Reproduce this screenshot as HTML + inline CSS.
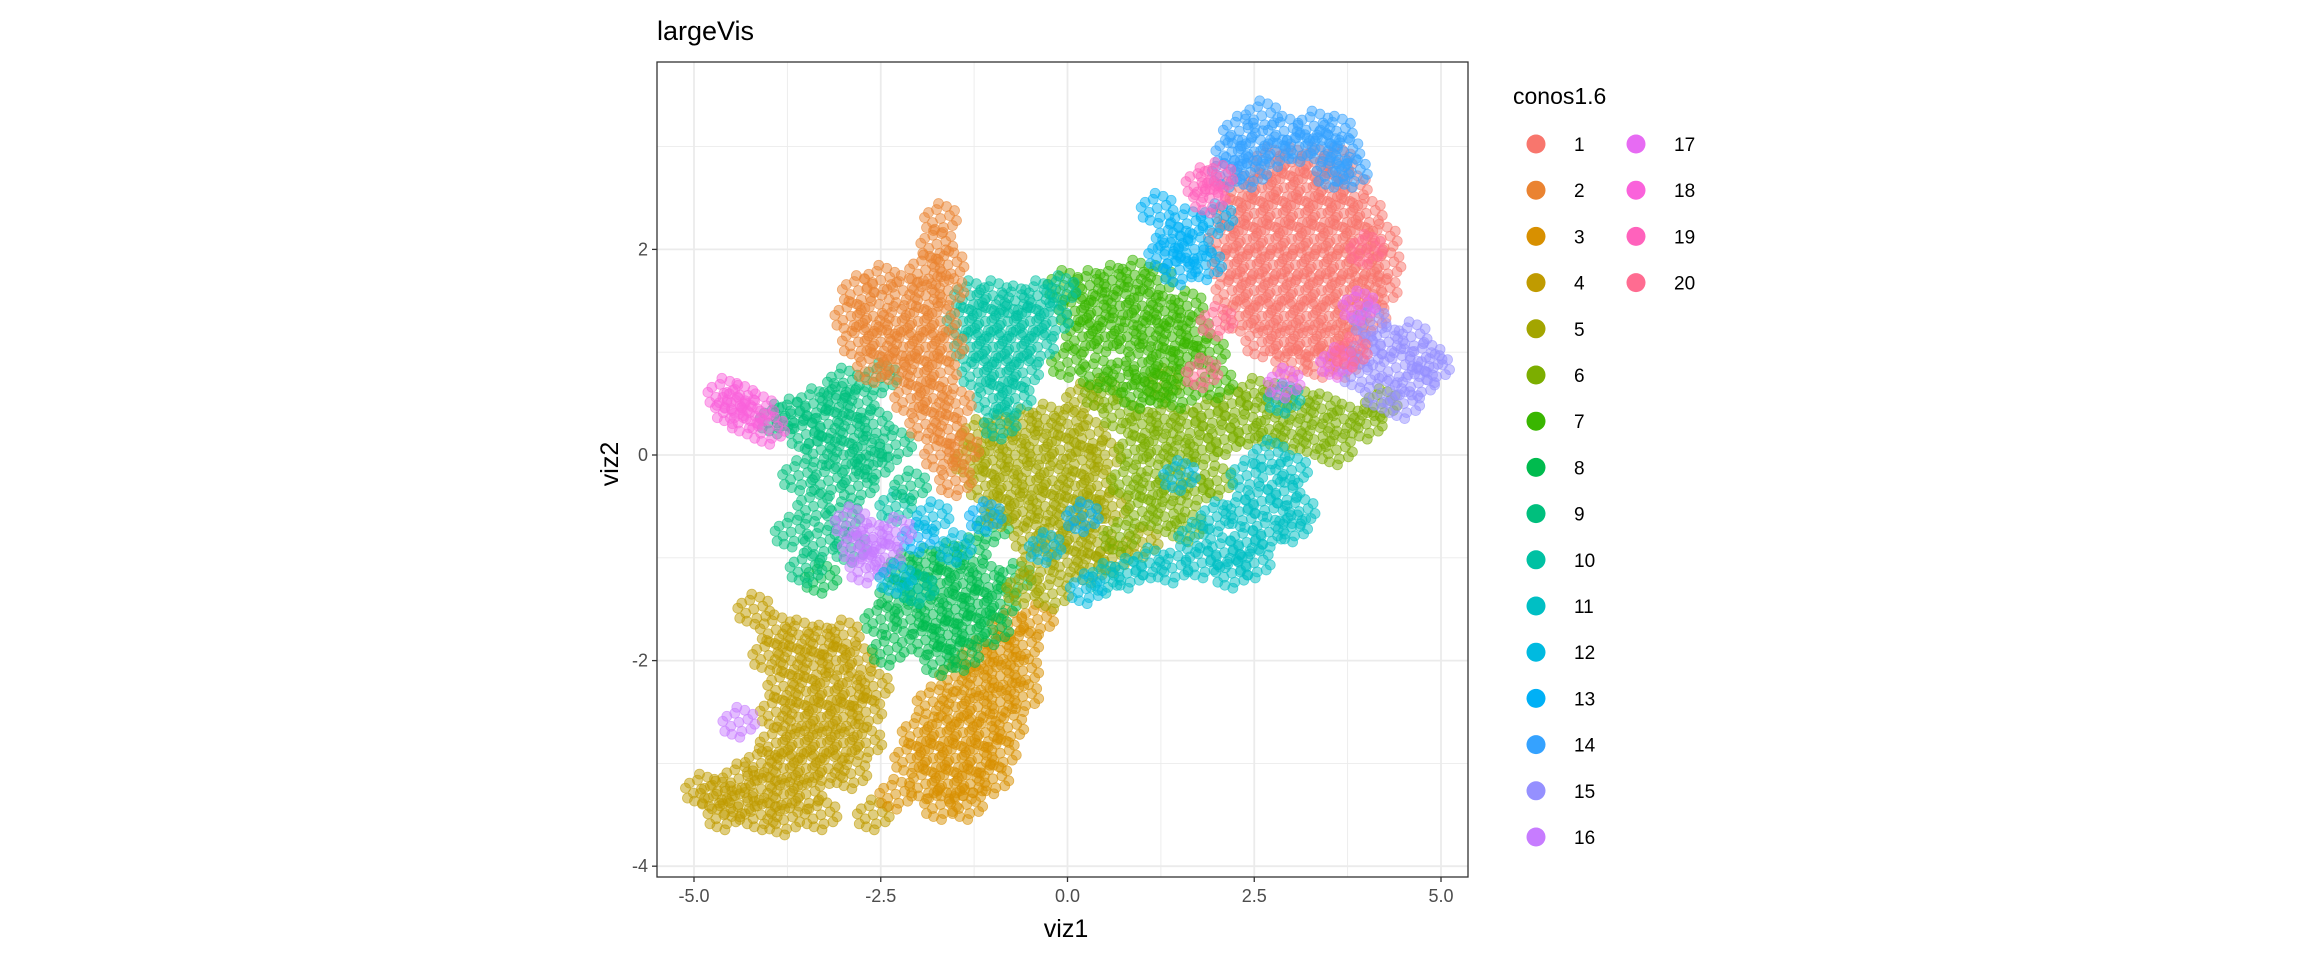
<!DOCTYPE html>
<html><head><meta charset="utf-8"><style>
html,body{margin:0;padding:0;background:#fff;}
svg{display:block;font-family:"Liberation Sans",sans-serif;}
</style></head><body>
<svg id="chart" width="2304" height="960" viewBox="0 0 2304 960">
<g id="grid"></g>
<g id="points"></g>
<rect x="657" y="62" width="811" height="815" fill="none" stroke="#333" stroke-width="1.3"/>
<g id="axes"></g>
<text x="657" y="40" font-size="27" fill="#000">largeVis</text>
<text x="1066" y="937" font-size="25" text-anchor="middle" fill="#000">viz1</text>
<text x="0" y="0" font-size="25" text-anchor="middle" fill="#000" transform="translate(618,464) rotate(-90)">viz2</text>
<g id="legend"></g>
</svg>
<script>
const xTicks=[-5,-2.5,0,2.5,5];
const xTickLabels=["-5.0","-2.5","0.0","2.5","5.0"];
const yTicks=[-4,-2,0,2];
const yTickLabels=["-4","-2","0","2"];
const xMinor=[-3.75,-1.25,1.25,3.75];
const yMinor=[-3,-1,1,3];
const clusterIds=[1,2,3,4,5,6,7,8,9,10,11,12,13,14,15,16,17,18,19,20];
const clusterColors=["#F8766D","#EA8331","#D89000","#C09B00","#A3A500","#7CAE00","#39B600","#00BB4E","#00BF7D","#00C1A3","#00BFC4","#00BAE0","#00B0F6","#35A2FF","#9590FF","#C77CFF","#E76BF3","#FA62DB","#FF62BC","#FF6C91"];
const c4="-3.9 -1.7,-3.6 -1.75,-3.3 -1.8,-3.0 -1.75,-4.0 -1.95,-3.7 -2.0,-3.4 -2.05,-3.1 -2.0,-2.8 -2.0,-3.8 -2.25,-3.5 -2.3,-3.2 -2.3,-2.9 -2.3,-2.6 -2.25,-3.9 -2.5,-3.6 -2.55,-3.3 -2.55,-3.0 -2.55,-2.7 -2.5,-3.9 -2.8,-3.6 -2.8,-3.3 -2.8,-3.0 -2.8,-4.1 -3.0,-3.8 -3.05,-3.5 -3.05,-3.2 -3.05,-2.9 -3.1,-4.4 -3.15,-4.1 -3.25,-3.8 -3.3,-3.5 -3.3,-4.7 -3.3,-4.4 -3.4,-4.1 -3.5,-3.8 -3.55,-4.6 -3.5,-4.9 -3.25,-3.3 -3.5,-2.6 -3.5,-2.7 -2.8,-4.2 -1.5";
const c3="-1.2 -1.95,-0.9 -1.9,-0.6 -1.85,-1.5 -2.15,-1.2 -2.2,-0.9 -2.15,-0.6 -2.1,-1.8 -2.4,-1.5 -2.45,-1.2 -2.45,-0.9 -2.4,-0.6 -2.35,-2.0 -2.7,-1.7 -2.7,-1.4 -2.7,-1.1 -2.7,-0.8 -2.65,-2.1 -2.95,-1.8 -2.95,-1.5 -2.95,-1.2 -2.95,-0.9 -2.9,-1.9 -3.2,-1.6 -3.2,-1.3 -3.2,-1.0 -3.15,-1.7 -3.4,-1.35 -3.4,-2.3 -3.3,-0.4 -1.6,-0.8 -1.65";
const c8="-2.2 -1.1,-1.9 -1.05,-1.6 -1.0,-1.3 -0.95,-2.3 -1.35,-2.0 -1.3,-1.7 -1.25,-1.4 -1.25,-1.1 -1.2,-2.1 -1.6,-1.8 -1.55,-1.5 -1.5,-1.2 -1.45,-0.9 -1.45,-1.9 -1.8,-1.6 -1.75,-1.3 -1.7,-1.0 -1.7,-1.7 -2.0,-1.4 -1.95,-2.5 -1.6,-2.4 -1.9,-0.7 -1.2,-3.3 -1.2,-1.0 -0.7";
const c5="-1.2 0.2,-0.9 0.25,-0.6 0.3,-0.3 0.35,0.0 0.3,0.3 0.2,-1.3 -0.05,-1.0 -0.05,-0.7 0.0,-0.4 0.05,-0.1 0.05,0.2 -0.05,0.5 0.0,-1.1 -0.3,-0.8 -0.3,-0.5 -0.25,-0.2 -0.25,0.1 -0.3,0.4 -0.3,-0.9 -0.55,-0.6 -0.55,-0.3 -0.5,0.0 -0.55,0.3 -0.55,-0.5 -0.8,-0.2 -0.8,0.1 -0.8,0.4 -0.85,-0.4 -1.05,0.0 -1.05,0.3 -1.1,-0.6 -1.3,-0.2 -1.35,0.6 -1.0,1.0 -0.85,0.6 -0.5,0.2 0.55";
const c6="0.7 0.4,1.0 0.3,1.3 0.35,1.6 0.3,1.9 0.4,2.2 0.5,2.5 0.6,2.8 0.55,3.1 0.5,3.4 0.45,3.7 0.35,4.0 0.3,4.2 0.5,0.9 0.05,1.2 0.05,1.5 0.0,1.8 0.05,2.1 0.15,2.4 0.25,2.7 0.25,3.0 0.2,3.3 0.15,0.8 -0.25,1.1 -0.3,1.4 -0.3,1.7 -0.35,2.0 -0.25,1.0 -0.55,1.3 -0.6,1.6 -0.7,0.7 -0.8,3.6 0.05,0.45 0.6,1.3 0.7";
const c11="1.7 -0.8,2.0 -0.6,2.3 -0.55,2.6 -0.45,2.9 -0.35,3.1 -0.55,1.8 -1.05,2.1 -0.95,2.4 -0.85,2.7 -0.75,3.0 -0.7,2.2 -1.15,2.5 -1.05,1.4 -1.1,1.1 -1.05,0.8 -1.15,0.5 -1.2,2.7 0.0,3.0 -0.15,2.4 -0.2,2.9 0.55";
const c7="-0.05 1.65,0.3 1.65,0.6 1.7,0.9 1.75,1.2 1.7,0.1 1.4,0.4 1.4,0.7 1.45,1.0 1.45,1.3 1.4,1.6 1.45,0.2 1.15,0.5 1.15,0.8 1.15,1.1 1.2,1.4 1.15,1.7 1.2,1.0 0.9,1.3 0.9,1.6 0.95,1.9 1.0,1.2 0.65,1.5 0.6,2.0 0.7,0.0 0.9,0.4 0.8,0.7 0.75,0.95 0.6";
const c10="-1.3 1.55,-1.0 1.55,-0.7 1.5,-0.4 1.55,-0.1 1.6,-1.4 1.3,-1.1 1.3,-0.8 1.3,-0.5 1.3,-0.2 1.3,-1.3 1.05,-1.0 1.05,-0.7 1.05,-0.4 1.05,-1.2 0.8,-0.9 0.8,-0.6 0.8,-1.0 0.55,-0.7 0.55,-0.9 0.3,-2.3 -0.5,-2.0 -1.3";
const c9="-3.7 0.4,-3.4 0.5,-3.1 0.55,-2.8 0.5,-3.5 0.2,-3.2 0.3,-2.9 0.25,-2.6 0.3,-3.3 0.05,-3.0 0.0,-2.7 0.0,-3.6 -0.2,-3.2 -0.25,-2.8 -0.3,-3.4 -0.5,-3.0 -0.6,-3.7 -0.75,-3.3 -0.85,-2.9 -0.9,-3.5 -1.1,-2.6 -0.1,-2.3 0.1,-2.1 -0.3,-3.9 0.35,-2.5 0.75,-3.0 0.7";
const c2="-1.7 2.3,-1.75 2.05,-1.6 1.85,-1.9 1.8,-2.8 1.6,-2.5 1.7,-2.2 1.6,-1.9 1.55,-1.6 1.6,-2.9 1.35,-2.6 1.35,-2.3 1.3,-2.0 1.3,-1.7 1.3,-2.8 1.1,-2.5 1.1,-2.2 1.05,-1.9 1.05,-1.6 1.05,-2.6 0.85,-2.3 0.85,-2.0 0.8,-1.7 0.8,-2.1 0.55,-1.8 0.55,-1.5 0.5,-1.9 0.3,-1.6 0.25,-1.4 0.05,-1.7 0.0,-1.5 -0.25";
const c1="2.7 2.85,3.0 2.85,3.3 2.85,3.6 2.85,2.3 2.6,2.6 2.6,2.9 2.6,3.2 2.6,3.5 2.6,3.8 2.6,2.2 2.35,2.5 2.35,2.8 2.35,3.1 2.35,3.4 2.35,3.7 2.35,4.0 2.35,2.1 2.1,2.4 2.1,2.7 2.1,3.0 2.1,3.3 2.1,3.6 2.1,3.9 2.1,4.2 2.1,2.15 1.85,2.45 1.85,2.75 1.85,3.05 1.85,3.35 1.85,3.65 1.85,3.95 1.85,4.25 1.85,2.2 1.6,2.5 1.6,2.8 1.6,3.1 1.6,3.4 1.6,3.7 1.6,4.0 1.6,4.2 1.6,2.3 1.35,2.6 1.35,2.9 1.35,3.2 1.35,3.5 1.35,3.8 1.35,4.05 1.35,2.6 1.1,2.9 1.1,3.2 1.1,3.5 1.1,3.8 1.1,3.0 0.9,3.4 0.9,3.7 0.9";
const c14="2.6 3.3,2.3 3.15,2.9 3.15,3.3 3.2,3.6 3.15,2.2 2.95,2.5 2.95,2.8 2.95,3.1 3.0,3.4 3.0,3.7 2.95,2.15 2.75,2.45 2.75,3.55 2.75,3.8 2.75";
const c13="1.4 2.1,1.7 2.0,1.5 1.8,1.85 1.85,1.3 1.95,1.6 2.25,2.0 2.3,1.2 2.4,0.2 -0.6,-1.1 -0.6,-2.0 -0.8";
const c15="4.0 1.0,4.3 1.1,4.6 1.15,4.8 0.95,4.4 0.85,4.7 0.7,4.2 0.6,4.5 0.5,4.9 0.85,3.9 0.8,4.05 1.3";
const c16="-2.8 -0.9,-2.6 -0.8,-2.45 -1.0,-2.7 -1.1,-2.3 -0.75,-2.9 -0.65,-4.4 -2.6";
const c12="-1.8 -0.6,-2.3 -1.2,-1.5 -0.9,0.25 -1.3,-0.3 -0.9,1.5 -0.2";
const c18="-4.6 0.6,-4.4 0.55,-4.3 0.35,-4.15 0.45,-4.0 0.25,-4.5 0.45";
const c17="3.6 0.9,2.9 0.7,3.9 1.45";
const c19="1.8 2.65,2.0 2.7,1.9 2.5";
const c20="2.0 1.3,4.0 2.0,3.8 1.0,1.8 0.8";
const drawOrder=[4,3,8,5,6,11,7,10,9,2,1,14,13,15,16,12,18,17,19,20];
const clusterPoints={1:c1,2:c2,3:c3,4:c4,5:c5,6:c6,7:c7,8:c8,9:c9,10:c10,11:c11,12:c12,13:c13,14:c14,15:c15,16:c16,17:c17,18:c18,19:c19,20:c20};

const NS="http://www.w3.org/2000/svg";
const X0=657,X1=1468,Y0=62,Y1=877;
function sx(v){return 1067.5+v*74.7;}
function sy(v){return 455-v*102.8;}
function mk(tag,attrs,parent){const e=document.createElementNS(NS,tag);for(const k in attrs)e.setAttribute(k,attrs[k]);parent.appendChild(e);return e;}
const grid=document.getElementById('grid');
mk('rect',{x:X0,y:Y0,width:X1-X0,height:Y1-Y0,fill:'#fff'},grid);
xMinor.forEach(v=>{const l=mk('line',{x1:sx(v),x2:sx(v),y1:Y0,y2:Y1,stroke:'#EBEBEB','stroke-width':0.9},grid);

});
yMinor.forEach(v=>{const l=mk('line',{x1:X0,x2:X1,y1:sy(v),y2:sy(v),stroke:'#EBEBEB','stroke-width':0.9},grid);

});
xTicks.forEach(v=>{const l=mk('line',{x1:sx(v),x2:sx(v),y1:Y0,y2:Y1,stroke:'#EBEBEB','stroke-width':1.8},grid);

});
yTicks.forEach(v=>{const l=mk('line',{x1:X0,x2:X1,y1:sy(v),y2:sy(v),stroke:'#EBEBEB','stroke-width':1.8},grid);

});
const axes=document.getElementById('axes');
xTicks.forEach((v,i)=>{mk('line',{x1:sx(v),x2:sx(v),y1:Y1,y2:Y1+5,stroke:'#333','stroke-width':1.3},axes);
const t=mk('text',{x:sx(v),y:Y1+25,'font-size':18,'text-anchor':'middle',fill:'#4D4D4D'},axes);t.textContent=xTickLabels[i];

});
yTicks.forEach((v,i)=>{mk('line',{x1:X0-5,x2:X0,y1:sy(v),y2:sy(v),stroke:'#333','stroke-width':1.3},axes);
const t=mk('text',{x:X0-9,y:sy(v)+6,'font-size':18,'text-anchor':'end',fill:'#4D4D4D'},axes);t.textContent=yTickLabels[i];

});
const pts=document.getElementById('points');
// marker glyph: a small irregular clump of dots around each datum
const offs=[[0,0],[9,-3],[-8,4],[3,9],[-4,-9],[12,7],[-12,-6],[6,-12],[-7,12],[14,-8],[-14,9],[1,15],[-2,-15],[16,2],[-16,-1]];
drawOrder.forEach(id=>{
  const col=clusterColors[id-1];
  const g=mk('g',{fill:col,'fill-opacity':0.5},pts);
  
  
  clusterPoints[id].split(',').forEach(p=>{
    const [a,b]=p.trim().split(/\s+/).map(Number);
    const cx=sx(a),cy=sy(b);
    offs.forEach(o=>{mk('circle',{cx:cx+o[0],cy:cy+o[1],r:5,stroke:col,'stroke-opacity':0.6,'stroke-width':0.8},g);});
  });
});
const leg=document.getElementById('legend');
const lt=mk('text',{x:1513,y:104,'font-size':23,fill:'#000'},leg);lt.textContent='conos1.6';


clusterIds.forEach((id,i)=>{
  const col=i<16?0:1,row=i<16?i:i-16;
  const kx=1536+col*100,ky=144+row*46.2;
  const g=mk('g',{},leg);
  
  
  mk('circle',{cx:kx,cy:ky,r:9.5,fill:clusterColors[i]},g);
  const t=mk('text',{x:kx+38,y:ky+7,'font-size':19,fill:'#000'},g);t.textContent=String(id);
});
</script>
</body></html>
